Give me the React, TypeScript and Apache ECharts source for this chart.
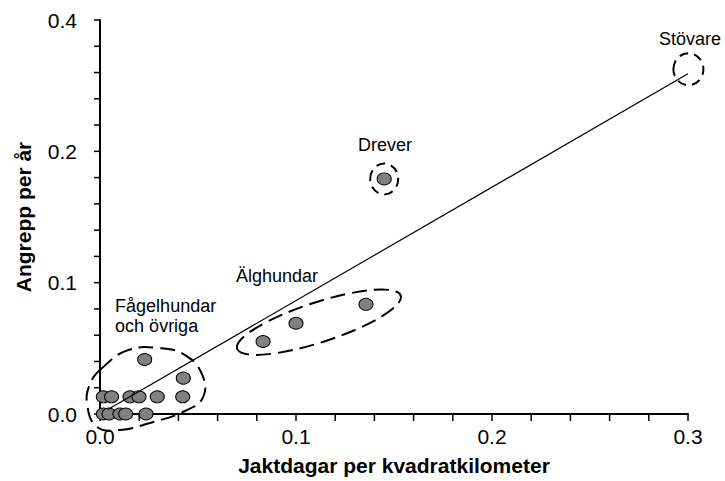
import React, { useEffect, useRef } from "react";
import * as echarts from "echarts";

// ---- data ----
const FAGEL_POINTS: number[][] = [
  [0.0017, 0.0131], [0.0059, 0.0131], [0.0153, 0.0131], [0.0199, 0.0131], [0.0292, 0.0131], [0.0422, 0.0131],
  [0.0017, 0], [0.0046, 0], [0.0102, 0], [0.0131, 0], [0.0235, 0],
  [0.0228, 0.0415], [0.0425, 0.0273],
];
const ALG_POINTS: number[][] = [[0.0832, 0.0552], [0.1, 0.0691], [0.1357, 0.0835]];
const DREVER_POINTS: number[][] = [[0.145, 0.179]];
const STOVARE_POINTS: number[][] = [[0.3001, 0.262]];
const REGRESSION_LINE: number[][] = [[0.004, 0.0035], [0.3, 0.259]];

const X_TICK_LABELS = ["0.0", "0.1", "0.2", "0.3"];
const Y_TICK_LABELS = ["0.0", "0.1", "0.2", "0.4"];
const X_TICK_VALUES = [0, 0.02, 0.04, 0.06, 0.08, 0.1, 0.12, 0.14, 0.16, 0.18, 0.2, 0.22, 0.24, 0.26, 0.28, 0.3];
const Y_TICK_VALUES = [0, 0.02, 0.04, 0.06, 0.08, 0.1, 0.12, 0.14, 0.16, 0.18, 0.2, 0.22, 0.24, 0.26, 0.28, 0.3];

const GROUP_NAMES = ["Fågelhundar\noch övriga", "Älghundar", "Drever", "Stövare"];
const GROUP_LABEL_ANCHORS: number[][] = [[0.0077, 0.0746], [0.0903, 0.1048], [0.1454, 0.2046], [0.301, 0.2855]];

// annotation outline of the bird-dog group (data units)
const FAGEL_OUTLINE: number[][] = [
  [0.0005, 0.0342], [0.0143, 0.0486], [0.0306, 0.0501], [0.0434, 0.0448], [0.052, 0.0304],
  [0.0526, 0.0129], [0.0434, 0.0023], [0.0255, -0.0068], [0.0102, -0.0121], [-0.0015, -0.0099],
  [-0.0066, 0.0076], [-0.0051, 0.0228],
];
// dashed ellipse centres (data units)
const ELLIPSE_CENTERS: number[][] = [[0.1117, 0.0699], [0.145, 0.179], [0.3002, 0.2625]];
// their geometry in pixels
const ELLIPSE_GEOM = [
  { rx: 86, ry: 20, rot: 18, dash: [15, 7] },
  { rx: 14, ry: 15.5, rot: 0, dash: [9, 6] },
  { rx: 15, ry: 16, rot: 0, dash: [9, 6] },
];

const FONT = "'Liberation Sans', Arial, Helvetica, sans-serif";
const X_TICK_LEN = 7;
const Y_TICK_LEN = 6;

const labelAt = (labels: string[]) => (v: number) => {
  const k = v / 0.1;
  if (Math.abs(k - Math.round(k)) > 1e-6) return "";
  return labels[Math.round(k)] ?? "";
};

export default function App() {
  const ref = useRef<HTMLDivElement>(null);
  useEffect(() => {
    if (!ref.current) return;
    const chart = echarts.init(ref.current, undefined, { renderer: "svg" });
    const allPoints = [...FAGEL_POINTS, ...ALG_POINTS, ...DREVER_POINTS, ...STOVARE_POINTS];
    const option: any = {
      animation: false,
      backgroundColor: "#ffffff",
      grid: { left: 100, right: 37, top: 20, bottom: 66 },
      xAxis: {
        type: "value",
        min: 0,
        max: 0.3,
        interval: 0.02,
        name: "Jaktdagar per kvadratkilometer",
        nameLocation: "middle",
        nameGap: 41,
        nameTextStyle: { fontFamily: FONT, fontSize: 21, fontWeight: "bold", color: "#000" },
        axisLine: { show: true, lineStyle: { color: "#000", width: 2 } },
        axisTick: { show: false },
        axisLabel: {
          margin: 12,
          fontFamily: FONT,
          fontSize: 21,
          color: "#000",
          formatter: labelAt(X_TICK_LABELS),
        },
        splitLine: { show: false },
      },
      yAxis: {
        type: "value",
        min: 0,
        max: 0.3,
        interval: 0.02,
        name: "Angrepp per år",
        nameLocation: "middle",
        nameGap: 66,
        nameRotate: 90,
        nameTextStyle: { fontFamily: FONT, fontSize: 21, fontWeight: "bold", color: "#000" },
        axisLine: { show: true, lineStyle: { color: "#000", width: 2 } },
        axisTick: { show: false },
        axisLabel: {
          margin: 23,
          fontFamily: FONT,
          fontSize: 21,
          color: "#000",
          formatter: labelAt(Y_TICK_LABELS),
        },
        splitLine: { show: false },
      },
      series: [
        {
          type: "custom",
          z: 1,
          silent: true,
          clip: false,
          data: X_TICK_VALUES.map((v) => [v, 0]),
          renderItem: (_p: any, api: any) => {
            const c = api.coord([api.value(0), 0]);
            return {
              type: "line",
              shape: { x1: c[0], y1: c[1], x2: c[0], y2: c[1] + X_TICK_LEN },
              style: { stroke: "#000", lineWidth: 1.5 },
            };
          },
        },
        {
          type: "custom",
          z: 1,
          silent: true,
          clip: false,
          data: Y_TICK_VALUES.map((v) => [0, v]),
          renderItem: (_p: any, api: any) => {
            const c = api.coord([0, api.value(1)]);
            return {
              type: "line",
              shape: { x1: c[0] - Y_TICK_LEN, y1: c[1], x2: c[0], y2: c[1] },
              style: { stroke: "#000", lineWidth: 1.5 },
            };
          },
        },
        {
          type: "custom",
          z: 1,
          silent: true,
          clip: false,
          data: [[0, 0]],
          renderItem: (_p: any, api: any) => {
            const pts = FAGEL_OUTLINE.map((d) => api.coord(d));
            return {
              type: "polygon",
              shape: { points: pts, smooth: 0.45 },
              style: { fill: "none", stroke: "#000", lineWidth: 2, lineDash: [15, 7] },
            };
          },
        },
        {
          type: "custom",
          z: 1,
          silent: true,
          clip: false,
          data: ELLIPSE_CENTERS,
          renderItem: (p: any, api: any) => {
            const c = api.coord([api.value(0), api.value(1)]);
            const g = ELLIPSE_GEOM[p.dataIndex];
            return {
              type: "ellipse",
              x: c[0],
              y: c[1],
              rotation: (g.rot * Math.PI) / 180,
              shape: { cx: 0, cy: 0, rx: g.rx, ry: g.ry },
              style: { fill: "none", stroke: "#000", lineWidth: 2, lineDash: g.dash },
            };
          },
        },
        {
          type: "scatter",
          z: 2,
          data: allPoints,
          symbol: "circle",
          symbolSize: [14, 12],
          itemStyle: { color: "#808080", borderColor: "#000", borderWidth: 1, opacity: 1 },
        },
        {
          type: "line",
          z: 3,
          data: REGRESSION_LINE,
          symbol: "none",
          lineStyle: { color: "#000", width: 1.2 },
        },
        {
          type: "custom",
          z: 4,
          silent: true,
          clip: false,
          data: GROUP_LABEL_ANCHORS,
          renderItem: (p: any, api: any) => {
            const c = api.coord([api.value(0), api.value(1)]);
            const left = p.dataIndex === 0;
            return {
              type: "text",
              x: c[0],
              y: c[1],
              style: {
                text: GROUP_NAMES[p.dataIndex],
                fontFamily: FONT,
                fontSize: 18,
                lineHeight: 20,
                fill: "#000",
                align: left ? "left" : "center",
                verticalAlign: "middle",
              },
            };
          },
        },
      ],
    };
    chart.setOption(option);
    return () => chart.dispose();
  }, []);
  return (
    <div
      ref={ref}
      style={{ position: "absolute", left: 0, top: 0, width: 725, height: 481, background: "#fff" }}
    />
  );
}
